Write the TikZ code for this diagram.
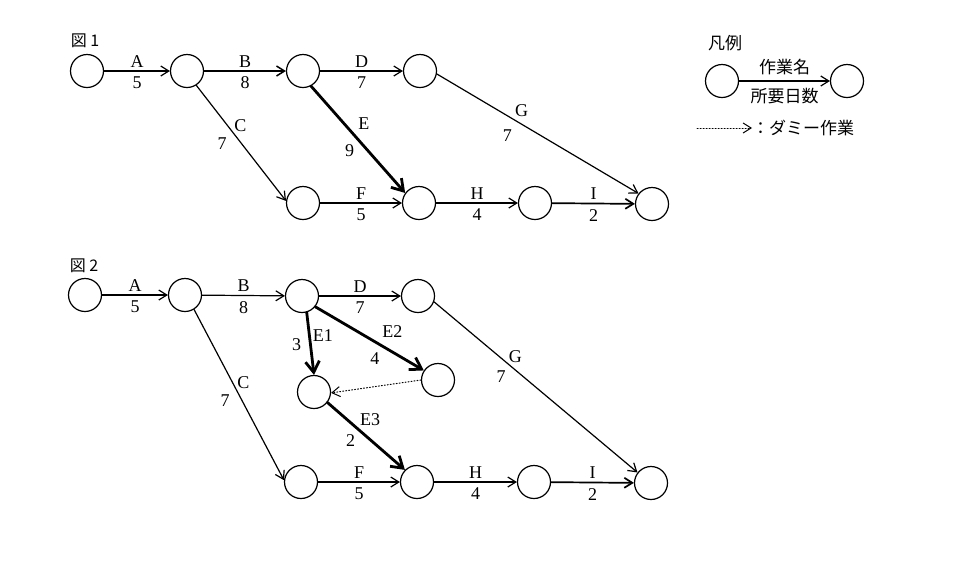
\documentclass[tikz,border=0pt]{standalone}
\usepackage{fontspec}
\setmainfont{Liberation Serif}
\newfontfamily\jp{Noto Sans CJK JP}
\usetikzlibrary{arrows.meta}
\begin{document}
\begin{tikzpicture}[x=1pt,y=-1pt,>={Straight Barb[length=8pt,width=10pt]},line join=round,line cap=round,
    ev/.style={circle,draw,line width=1.2pt,minimum size=33pt,inner sep=0pt},
    lbl/.style={inner sep=1pt,font=\fontsize{18}{20}\selectfont},
    jlbl/.style={inner sep=1pt,font=\jp\fontsize{17}{19}\selectfont},
    act/.style={->,line width=1.2pt},
    crit/.style={-{Straight Barb[length=11pt,width=14pt]},line width=2.8pt},
    dummy/.style={->,line width=1pt,dotted}]
    \useasboundingbox (0,0) rectangle (968,566);
    % figure 1
    \node[font=\jp\fontsize{16}{18}\selectfont] (t1) at (85,41) {図 1};
    \node[ev] (a1) at (87,71) {};
    \node[ev] (b1) at (187,71) {};
    \node[ev] (c1) at (303,71) {};
    \node[ev] (d1) at (420,71) {};
    \node[ev] (f1) at (303,203) {};
    \node[ev] (h1) at (419,203) {};
    \node[ev] (i1) at (535,203) {};
    \node[ev] (z1) at (652,204) {};
    \draw[act] (a1) -- node[lbl,above=2pt] (nA1) {A} node[lbl,below=4pt] (dA1) {5} (b1);
    \draw[act,line width=1.5pt] (b1) -- node[lbl,above=2pt] (nB1) {B} node[lbl,below=4pt] (dB1) {8} (c1);
    \draw[act] (c1) -- node[lbl,above=2pt] (nD1) {D} node[lbl,below=4pt] (dD1) {7} (d1);
    \draw[act] (b1.-57) -- node[lbl,pos=.35,right=5pt] (nC1) {C} node[lbl,pos=.5,left=13pt] (dC1) {7} (f1.173);
    \draw[crit] (c1.-62) -- node[lbl,pos=.35,right=12pt] (nE1) {E} node[lbl,pos=.6,left=11pt] (dE1) {9} (h1.144);
    \draw[act] (d1.-10) -- node[lbl,pos=.42,above=6pt] (nG1) {G} node[lbl,pos=.35,below=12pt] (dG1) {7} (z1.142);
    \draw[act] (f1) -- node[lbl,above=2pt] (nF1) {F} node[lbl,below=4pt] (dF1) {5} (h1);
    \draw[act] (h1) -- node[lbl,above=2pt] (nH1) {H} node[lbl,below=4pt] (dH1) {4} (i1);
    \draw[act,line width=1.7pt] (i1) -- node[lbl,above=2pt] (nI1) {I} node[lbl,below=4pt] (dI1) {2} (z1);
    % figure 2
    \node[font=\jp\fontsize{16}{18}\selectfont] (t2) at (84,266) {図 2};
    \node[ev] (a2) at (85,295) {};
    \node[ev] (b2) at (185,295) {};
    \node[ev] (c2) at (302,296) {};
    \node[ev] (d2) at (418,296) {};
    \node[ev] (e12) at (314,392) {};
    \node[ev] (e22) at (438,380) {};
    \node[ev] (f2) at (301,482) {};
    \node[ev] (h2) at (417,482) {};
    \node[ev] (i2) at (534,482) {};
    \node[ev] (z2) at (651,483) {};
    \draw[act] (a2) -- node[lbl,above=2pt] (nA2) {A} node[lbl,below=4pt] (dA2) {5} (b2);
    \draw[act] (b2) -- node[lbl,above=2pt] (nB2) {B} node[lbl,below=4pt] (dB2) {8} (c2);
    \draw[act] (c2) -- node[lbl,above=2pt] (nD2) {D} node[lbl,below=4pt] (dD2) {7} (d2);
    \draw[act] (b2.-58) -- node[lbl,pos=.43,right=3pt] (nC2) {C} node[lbl,pos=.535,left=11pt] (dC2) {7} (f2.174);
    \draw[crit] (c2.-74) -- node[lbl,pos=.365,right=1pt] (nE12) {E1} node[lbl,pos=.52,left=7pt] (dE12) {3} (e12.90);
    \draw[crit] (c2.-39) -- node[lbl,pos=.71,above=12pt] (nE22) {E2} node[lbl,pos=.55,below=8pt] (dE22) {4} (e22.146);
    \draw[crit] (e12.-38) -- node[lbl,pos=.55,above=12pt] (nE32) {E3} node[lbl,pos=.3,below=9pt] (dE32) {2} (h2.135);
    \draw[dummy] (e22.180) -- (e12.-3);
    \draw[act] (d2.-20) -- node[lbl,pos=.4,above=6pt] (nG2) {G} node[lbl,pos=.33,below=11pt] (dG2) {7} (z2.142);
    \draw[act] (f2) -- node[lbl,above=2pt] (nF2) {F} node[lbl,below=4pt] (dF2) {5} (h2);
    \draw[act] (h2) -- node[lbl,above=2pt] (nH2) {H} node[lbl,below=4pt] (dH2) {4} (i2);
    \draw[act,line width=1.7pt] (i2) -- node[lbl,above=2pt] (nI2) {I} node[lbl,below=4pt] (dI2) {2} (z2);
    % legend
    \node[jlbl] (lg) at (725,43) {凡例};
    \node[ev] (lgA) at (722,81) {};
    \node[ev] (lgB) at (847,81) {};
    \draw[act] (lgA) -- node[jlbl,above=5pt] (lgN) {作業名} node[jlbl,below=6pt] (lgD) {所要日数} (lgB);
    \coordinate (dm0) at (697,128);
    \coordinate (dm1) at (752,128);
    \draw[dummy] (dm0) -- (dm1);
    \node[jlbl,right,inner sep=0pt] (dmt) at (dm1) {：ダミー作業};
\end{tikzpicture}
\end{document}
